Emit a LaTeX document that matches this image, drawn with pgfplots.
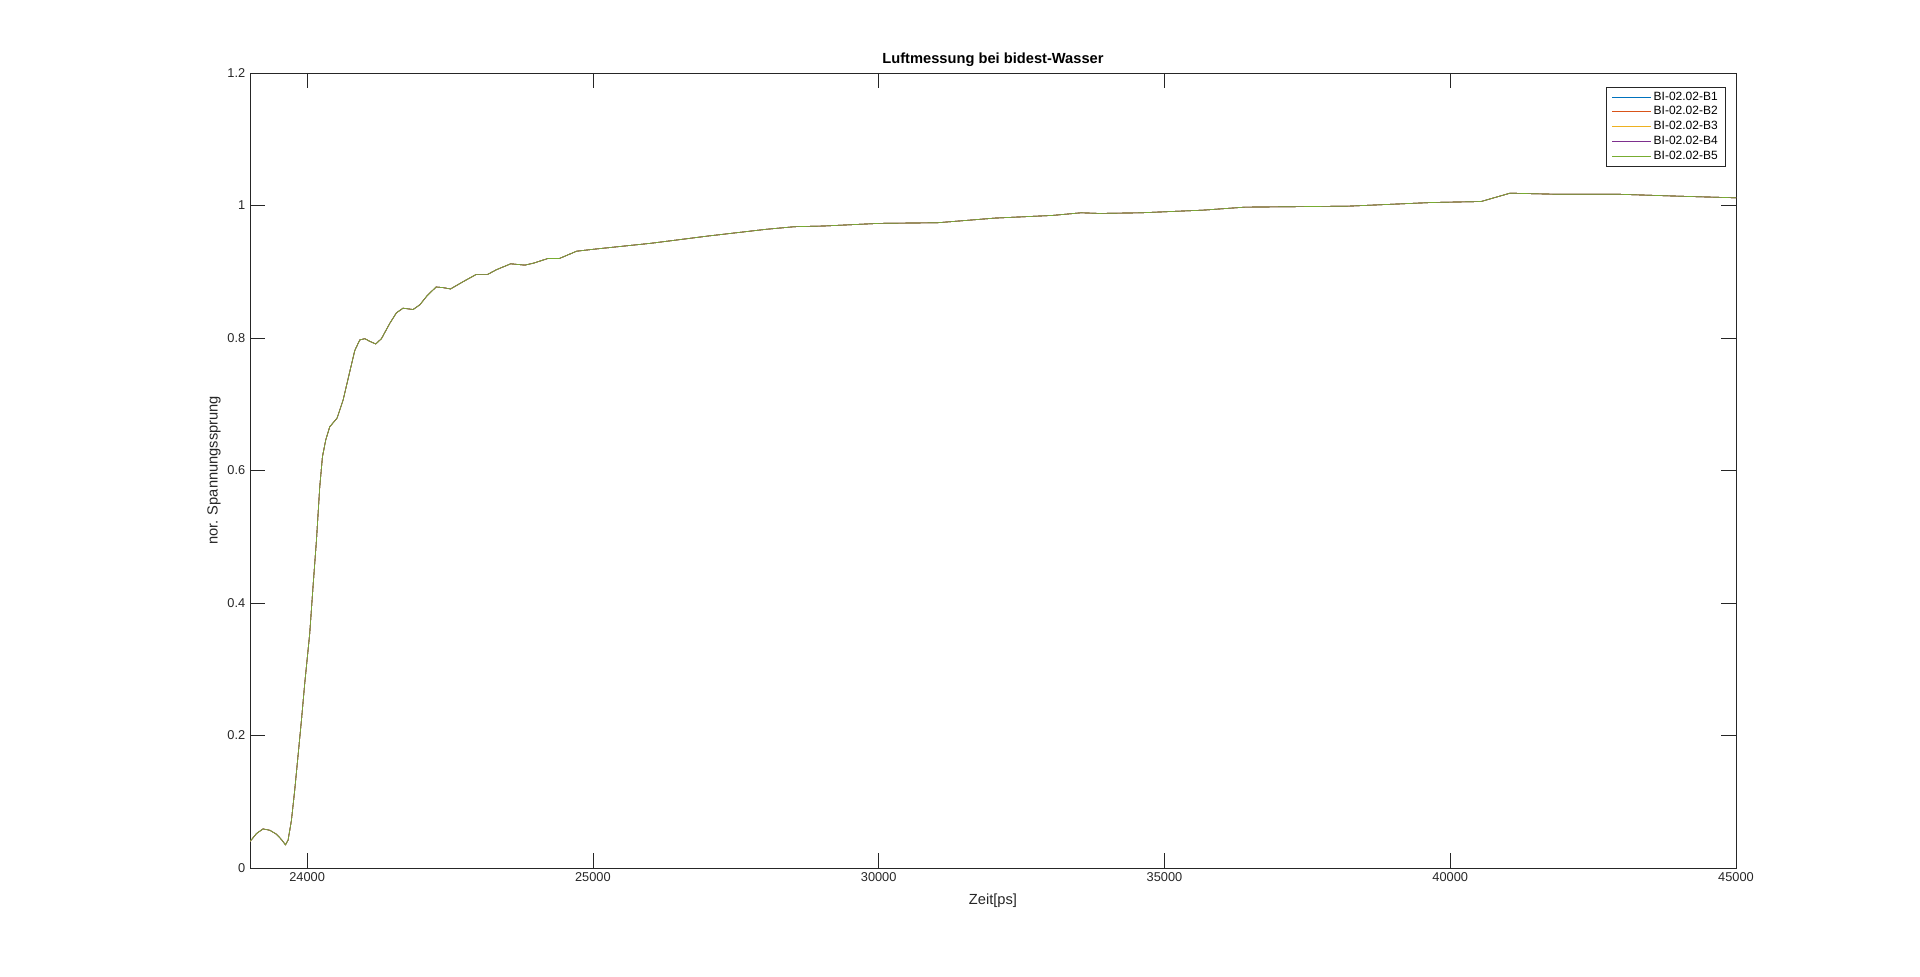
\documentclass[border=0pt]{standalone}
\usepackage{fontspec}
\setmainfont{Liberation Sans}
\usepackage{pgfplots}
\pgfplotsset{compat=1.18}
\usepackage{pgfplotstable}

% MATLAB default line colours
\definecolor{mB1}{rgb}{0,0.447,0.741}
\definecolor{mB2}{rgb}{0.850,0.325,0.098}
\definecolor{mB3}{rgb}{0.929,0.694,0.125}
\definecolor{mB4}{rgb}{0.494,0.184,0.556}
\definecolor{mB5}{rgb}{0.466,0.674,0.188}
\definecolor{axgray}{rgb}{0.15,0.15,0.15}

\pgfplotstableread{
x y
19000 0.040
19113 0.052
19228 0.059
19346 0.057
19463 0.051
19550 0.043
19620 0.035
19666 0.042
19725 0.072
19783 0.118
19900 0.223
19958 0.279
20045 0.354
20103 0.425
20163 0.495
20220 0.575
20268 0.621
20325 0.646
20395 0.666
20523 0.679
20628 0.706
20745 0.749
20833 0.781
20920 0.797
21008 0.799
21095 0.795
21200 0.791
21300 0.799
21445 0.822
21562 0.838
21678 0.845
21853 0.843
21970 0.850
22100 0.864
22257 0.877
22380 0.876
22508 0.874
22708 0.884
22959 0.896
23159 0.896
23310 0.903
23561 0.912
23811 0.910
23962 0.913
24213 0.920
24413 0.920
24714 0.931
25015 0.934
26018 0.943
27021 0.954
28024 0.964
28526 0.968
29027 0.969
30000 0.973
31033 0.974
32036 0.981
33039 0.985
33541 0.989
33866 0.988
34593 0.989
35679 0.993
36405 0.9975
38219 0.999
39670 1.0045
40539 1.006
41047 1.0186
41844 1.017
42932 1.017
44020 1.014
45000 1.0116
}\messung

\begin{document}
\begin{tikzpicture}
% page = 1920 x 976 px at 0.75pt per px
\useasboundingbox (0pt,0pt) rectangle (1440pt,732pt);
\begin{axis}[
at={(187.5pt,81pt)}, anchor=south west,
scale only axis,
width=1114.5pt, height=596.25pt,
xmin=19000, xmax=45000,
ymin=0, ymax=1.2,
xtick={20000,25000,30000,35000,40000,45000},
xticklabels={24000,25000,30000,35000,40000,45000},
ytick={0,0.2,0.4,0.6,0.8,1,1.2},
scaled x ticks=false,
/pgf/number format/assume math mode=true,
tick align=inside,
major tick length=11.25pt,
axis line style={axgray, line width=0.5pt},
every tick/.style={axgray, line width=0.5pt},
tick label style={font=\fontsize{9.6}{11}\selectfont, text=axgray},
title={Luftmessung bei bidest-Wasser},
title style={font=\fontsize{11}{13}\selectfont\bfseries, yshift=-5pt},
xlabel={Zeit[ps]},
xlabel style={at={(axis description cs:0.5,-0.0415)}, anchor=center, font=\fontsize{11}{13}\selectfont, text=axgray},
ylabel={nor. Spannungssprung},
ylabel style={at={(axis description cs:-0.0242,0.5)}, anchor=center, font=\fontsize{11}{13}\selectfont, text=axgray},
legend style={at={(axis description cs:0.9933,0.983)}, anchor=north east,
  font=\fontsize{9}{10}\selectfont, draw=axgray, line width=0.5pt,
  inner xsep=4pt, inner ysep=1.6pt, row sep=-0.6pt},
legend cell align=left,
legend image code/.code={\draw[#1] (0pt,0pt) -- (29pt,0pt);},
]
\addplot[color=mB1, line width=0.5pt] table[x=x, y=y]{\messung};
\addplot[color=mB2, line width=0.5pt] table[x=x, y=y]{\messung};
\addplot[color=mB3, line width=0.5pt] table[x=x, y=y]{\messung};
\addplot[color=mB4, line width=0.5pt] table[x=x, y=y]{\messung};
\addplot[color=mB5, line width=0.5pt] table[x=x, y=y]{\messung};
\legend{BI-02.02-B1, BI-02.02-B2, BI-02.02-B3, BI-02.02-B4, BI-02.02-B5}
\end{axis}
\end{tikzpicture}
\end{document}
